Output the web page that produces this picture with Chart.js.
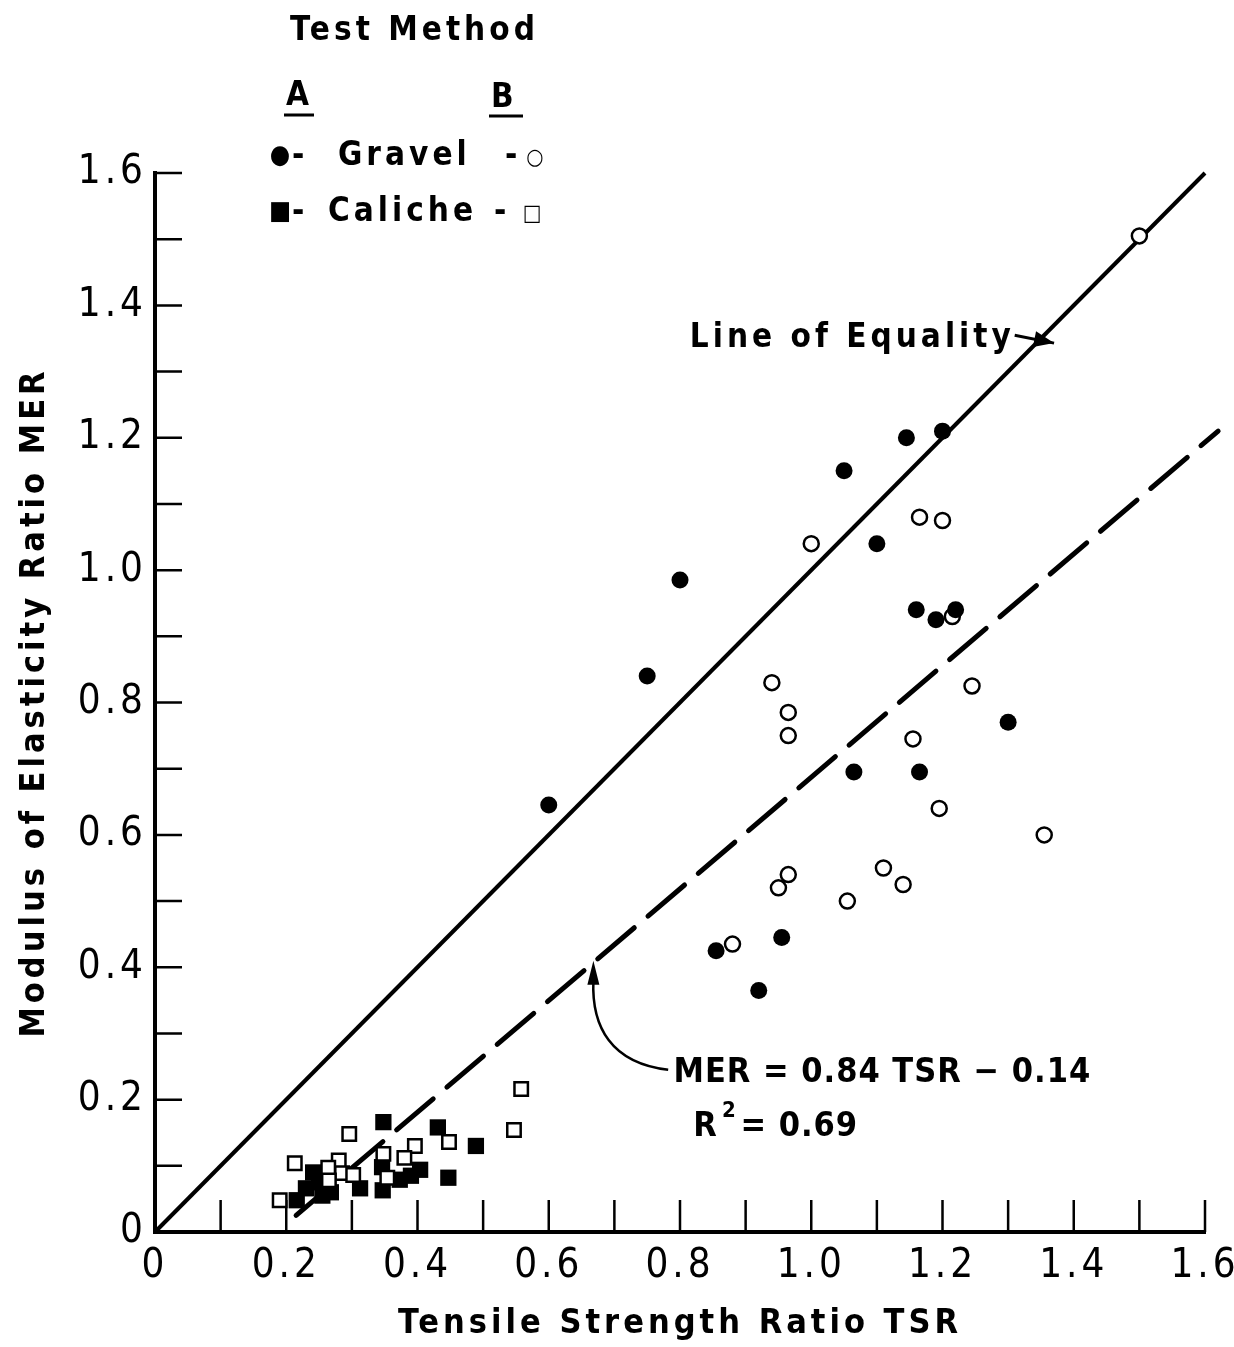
<!DOCTYPE html>
<html lang="en">
<head>
<meta charset="UTF-8">
<title>MER vs TSR</title>
<style>
    body { margin: 0; padding: 0; background: #fff; }
    #wrap { width: 1234px; height: 1347px; position: relative; }
</style>
</head>
<body>
<div id="wrap"><canvas id="chart"></canvas></div>
<script src="https://cdn.jsdelivr.net/npm/chart.js"></script>
<script>
    // Gravel, test method A (filled circles)
    const gravelA_tsr = [0.60, 0.75, 0.80, 1.05, 1.145, 1.20, 1.10, 1.16, 1.19, 1.22, 1.30, 1.065, 1.165, 0.955, 0.855, 0.92];
    const gravelA_mer = [0.645, 0.84, 0.985, 1.15, 1.20, 1.21, 1.04, 0.94, 0.925, 0.94, 0.77, 0.695, 0.695, 0.445, 0.425, 0.365];

    // Gravel, test method B (open circles)
    const gravelB_tsr = [1.50, 1.00, 1.165, 1.20, 1.215, 1.245, 0.94, 0.965, 0.965, 1.155, 1.195, 1.355, 0.965, 0.95, 1.11, 1.14, 1.055, 0.88];
    const gravelB_mer = [1.505, 1.04, 1.08, 1.075, 0.93, 0.825, 0.83, 0.785, 0.75, 0.745, 0.64, 0.60, 0.54, 0.52, 0.55, 0.525, 0.50, 0.435];

    // Caliche, test method A (filled squares)
    const calicheA_tsr = [0.348, 0.431, 0.489, 0.447, 0.3125, 0.347, 0.346, 0.373, 0.404, 0.39, 0.241, 0.23, 0.216, 0.255, 0.268, 0.25];
    const calicheA_mer = [0.166, 0.158, 0.13, 0.082, 0.066, 0.063, 0.098, 0.079, 0.094, 0.085, 0.09, 0.066, 0.048, 0.055, 0.06, 0.075];

    // Caliche, test method B (open squares)
    const calicheB_tsr = [0.558, 0.547, 0.296, 0.448, 0.396, 0.348, 0.38, 0.213, 0.28, 0.264, 0.285, 0.302, 0.265, 0.354, 0.19];
    const calicheB_mer = [0.216, 0.154, 0.148, 0.136, 0.13, 0.118, 0.112, 0.104, 0.108, 0.097, 0.089, 0.086, 0.078, 0.082, 0.048];

    // reference lines (end points)
    const equality_tsr = [0, 1.6];
    const equality_mer = [0, 1.6];
    const fit_tsr = [0.215, 1.62];
    const fit_mer = [0.025, 1.21];

    const pts = (xs, ys) => xs.map((v, i) => ({ x: v, y: ys[i] }));

    const FONT = "'DejaVu Sans Condensed', 'DejaVu Sans', sans-serif";
    const TICK_FONT = "'Liberation Sans Narrow', 'DejaVu Sans Condensed', sans-serif";
    const SPACING = '4px';

    // every 0.2 gets a label, the 0.1 steps are just tick marks
    function tickLabel(v) {
        const n = Math.round(v * 10);
        if (n % 2 !== 0) return '';
        if (n === 0) return '0';
        return (n / 10).toFixed(1);
    }

    // ticks drawn inside the plot, like the original
    const inwardTicks = {
        id: 'inwardTicks',
        beforeUpdate(chart) { chart.ctx.letterSpacing = SPACING; },
        beforeDraw(chart) { chart.ctx.letterSpacing = SPACING; },
        beforeDatasetsDraw(chart) {
            const { ctx, scales: { x, y } } = chart;
            ctx.save();
            ctx.strokeStyle = '#000';
            ctx.lineWidth = 2.5;
            ctx.beginPath();
            x.ticks.forEach(t => {
                if (Math.round(t.value * 10) === 0) return;
                const px = x.getPixelForValue(t.value);
                ctx.moveTo(px, x.top);
                ctx.lineTo(px, x.top - 32);
            });
            y.ticks.forEach(t => {
                if (Math.round(t.value * 10) === 0) return;
                const py = y.getPixelForValue(t.value);
                ctx.moveTo(y.right, py);
                ctx.lineTo(y.right + 27, py);
            });
            ctx.stroke();
            ctx.restore();
        }
    };

    function arrowHead(ctx, tx, ty, angle, len, half) {
        ctx.beginPath();
        ctx.moveTo(tx, ty);
        ctx.lineTo(tx - len * Math.cos(angle) + half * Math.sin(angle), ty - len * Math.sin(angle) - half * Math.cos(angle));
        ctx.lineTo(tx - len * Math.cos(angle) - half * Math.sin(angle), ty - len * Math.sin(angle) + half * Math.cos(angle));
        ctx.closePath();
        ctx.fill();
    }

    // legend block and the two notes
    const notes = {
        id: 'notes',
        afterDraw(chart) {
            const { ctx, scales: { x, y } } = chart;
            const big = `bold 33px ${FONT}`;
            ctx.save();
            ctx.fillStyle = '#000';
            ctx.strokeStyle = '#000';
            ctx.letterSpacing = SPACING;
            ctx.textBaseline = 'middle';

            // legend
            ctx.font = big;
            ctx.textAlign = 'left';
            ctx.fillText('Test Method', 290, 31);
            ctx.fillText('A', 286, 96);
            ctx.fillText('B', 491, 98);
            ctx.lineWidth = 3;
            ctx.beginPath();
            ctx.moveTo(284, 115); ctx.lineTo(314, 115);
            ctx.moveTo(489, 116); ctx.lineTo(523, 116);
            ctx.stroke();

            ctx.fillText('Gravel', 338, 156);
            ctx.fillText('Caliche', 328, 212);
            ctx.fillText('-', 292, 156);
            ctx.fillText('-', 292, 212);
            ctx.fillText('-', 505, 156);
            ctx.fillText('-', 494, 212);
            ctx.letterSpacing = '0px';
            ctx.textAlign = 'center';
            ctx.font = `26px ${FONT}`;
            ctx.fillText('●', 280, 156);
            ctx.fillText('■', 280, 212);
            ctx.font = `bold 22px ${FONT}`;
            ctx.fillText('○', 535, 158);
            ctx.fillText('□', 532, 214);

            // line of equality note
            ctx.textAlign = 'left';
            ctx.letterSpacing = SPACING;
            ctx.font = big;
            ctx.fillText('Line of Equality', x.getPixelForValue(0.815), y.getPixelForValue(1.35));
            const ax0 = x.getPixelForValue(1.31), ay0 = y.getPixelForValue(1.355);
            const ax1 = x.getPixelForValue(1.37), ay1 = y.getPixelForValue(1.343);
            ctx.lineWidth = 3;
            ctx.beginPath();
            ctx.moveTo(ax0, ay0);
            ctx.lineTo(ax1, ay1);
            ctx.stroke();
            arrowHead(ctx, ax1, ay1, Math.atan2(ay1 - ay0, ax1 - ax0), 20, 8);

            // regression note
            ctx.font = `bold 34px ${FONT}`;
            ctx.letterSpacing = '1px';
            ctx.fillText('MER = 0.84 TSR \u2212 0.14', x.getPixelForValue(0.79), y.getPixelForValue(0.24));
            ctx.fillText('R', x.getPixelForValue(0.82), y.getPixelForValue(0.158));
            ctx.fillText('= 0.69', x.getPixelForValue(0.892), y.getPixelForValue(0.158));
            ctx.font = `bold 22px ${FONT}`;
            ctx.letterSpacing = '0px';
            ctx.fillText('2', x.getPixelForValue(0.864), y.getPixelForValue(0.182));

            const c0x = x.getPixelForValue(0.782), c0y = y.getPixelForValue(0.245);
            const c1x = x.getPixelForValue(0.695), c1y = y.getPixelForValue(0.255);
            const c2x = x.getPixelForValue(0.665), c2y = y.getPixelForValue(0.31);
            const c3x = x.getPixelForValue(0.668), c3y = y.getPixelForValue(0.38);
            ctx.lineWidth = 2.5;
            ctx.beginPath();
            ctx.moveTo(c0x, c0y);
            ctx.bezierCurveTo(c1x, c1y, c2x, c2y, c3x, c3y);
            ctx.stroke();
            arrowHead(ctx, x.getPixelForValue(0.668), y.getPixelForValue(0.41), -Math.PI / 2, 24, 6);
            ctx.restore();
        }
    };

    new Chart(document.getElementById('chart'), {
        type: 'scatter',
        data: {
            datasets: [
                {
                    label: 'Caliche B',
                    data: pts(calicheB_tsr, calicheB_mer),
                    pointStyle: 'rect',
                    pointRadius: 9.5,
                    borderWidth: 2.5,
                    borderColor: '#000',
                    backgroundColor: '#fff',
                    order: 1
                },
                {
                    label: 'Caliche A',
                    data: pts(calicheA_tsr, calicheA_mer),
                    pointStyle: 'rect',
                    pointRadius: 11.5,
                    borderWidth: 0,
                    borderColor: '#000',
                    backgroundColor: '#000',
                    order: 2
                },
                {
                    label: 'Gravel A',
                    data: pts(gravelA_tsr, gravelA_mer),
                    pointStyle: 'circle',
                    pointRadius: 8.5,
                    borderWidth: 0,
                    backgroundColor: '#000',
                    order: 3
                },
                {
                    label: 'Gravel B',
                    data: pts(gravelB_tsr, gravelB_mer),
                    pointStyle: 'circle',
                    pointRadius: 7.5,
                    borderWidth: 2.5,
                    borderColor: '#000',
                    backgroundColor: '#fff',
                    order: 4
                },
                {
                    type: 'line',
                    label: 'Line of Equality',
                    data: pts(equality_tsr, equality_mer),
                    borderColor: '#000',
                    borderWidth: 4,
                    pointRadius: 0,
                    clip: false,
                    order: 5
                },
                {
                    type: 'line',
                    label: 'MER = 0.84 TSR - 0.14',
                    data: pts(fit_tsr, fit_mer),
                    borderColor: '#000',
                    borderWidth: 5,
                    borderDash: [48, 18],
                    borderCapStyle: 'round',
                    pointRadius: 0,
                    clip: false,
                    order: 6
                }
            ]
        },
        options: {
            responsive: true,
            maintainAspectRatio: false,
            animation: false,
            layout: { padding: { top: 173, right: 29, bottom: 0, left: 0 } },
            plugins: {
                legend: { display: false },
                tooltip: { enabled: false }
            },
            scales: {
                x: {
                    type: 'linear',
                    min: 0,
                    max: 1.6,
                    afterFit(s) { s.height = 115; s.paddingLeft = 0; s.paddingRight = 0; },
                    grid: { display: false, drawTicks: false },
                    border: { display: true, color: '#000', width: 4 },
                    ticks: {
                        stepSize: 0.1,
                        autoSkip: false,
                        maxRotation: 0,
                        padding: 11,
                        color: '#000',
                        font: { family: TICK_FONT, size: 40 },
                        callback: tickLabel
                    },
                    title: {
                        display: true,
                        text: 'Tensile Strength Ratio TSR',
                        color: '#000',
                        font: { family: FONT, size: 34, weight: 'bold' },
                        padding: { top: 0, bottom: 2 }
                    }
                },
                y: {
                    type: 'linear',
                    min: 0,
                    max: 1.6,
                    afterFit(s) { s.width = 155; s.paddingTop = 0; s.paddingBottom = 0; },
                    grid: { display: false, drawTicks: false },
                    border: { display: true, color: '#000', width: 4 },
                    ticks: {
                        stepSize: 0.1,
                        autoSkip: false,
                        padding: 8,
                        color: '#000',
                        font: { family: TICK_FONT, size: 40 },
                        callback: tickLabel
                    },
                    title: {
                        display: true,
                        text: 'Modulus of Elasticity Ratio MER',
                        color: '#000',
                        font: { family: FONT, size: 34, weight: 'bold' },
                        padding: { top: 15, bottom: 0 }
                    }
                }
            }
        },
        plugins: [inwardTicks, notes]
    });
</script>
</body>
</html>
